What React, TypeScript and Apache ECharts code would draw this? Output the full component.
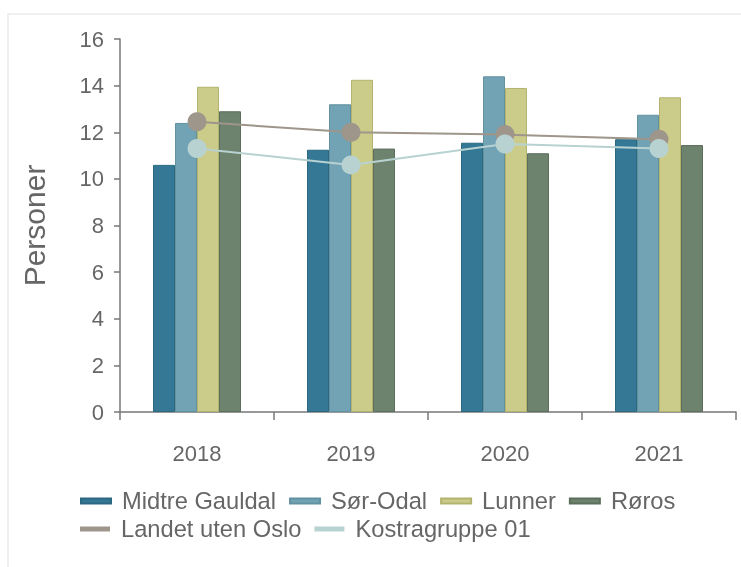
import React, { useEffect, useRef } from "react";
import * as echarts from "echarts";

const years = ["2018", "2019", "2020", "2021"];
const midtreGauldal = [10.6, 11.25, 11.55, 11.7];
const sorOdal = [12.4, 13.2, 14.4, 12.75];
const lunner = [13.95, 14.25, 13.9, 13.5];
const roros = [12.9, 11.3, 11.1, 11.45];
const landetUtenOslo = [12.45, 12.0, 11.9, 11.7];
const kostragruppe01 = [11.3, 10.6, 11.5, 11.3];
const yTicks = { min: 0, max: 16, interval: 2 };
const legendRow1 = ["Midtre Gauldal", "Sør-Odal", "Lunner", "Røros"];
const legendRow2 = ["Landet uten Oslo", "Kostragruppe 01"];

const FONT = "'Liberation Sans', Arial, sans-serif";

export default function App() {
  const ref = useRef<HTMLDivElement>(null);
  useEffect(() => {
    if (!ref.current) return;
    const chart = echarts.init(ref.current, undefined, { renderer: "svg" });
    const bar = (name: string, data: number[], color: string, border: string) => ({
      name,
      type: "bar",
      data,
      barWidth: 22,
      barGap: "0%",
      itemStyle: { color, borderColor: border, borderWidth: 1 },
    });
    const line = (name: string, data: number[], color: string) => ({
      name,
      type: "line",
      data,
      symbol: "circle",
      symbolSize: 19,
      lineStyle: { color, width: 2 },
      itemStyle: { color },
      z: 5,
    });
    const legendBase = {
      left: 80,
      padding: 0,
      itemWidth: 30,
      itemHeight: 5,
      itemGap: 13,
      icon: "rect",
      textStyle: { fontSize: 23.7, color: "#666", fontFamily: FONT, padding: [0, 0, 0, 6] },
    };
    chart.setOption({
      animation: false,
      textStyle: { fontFamily: FONT },
      graphic: [
        {
          type: "rect",
          shape: { x: 8, y: 14, width: 800, height: 600 },
          style: { fill: "none", stroke: "#ececec", lineWidth: 1.5 },
          silent: true,
        },
      ],
      grid: { left: 120, right: 5, top: 39, bottom: 155, containLabel: false },
      legend: [
        { ...legendBase, top: 489, data: legendRow1 },
        { ...legendBase, top: 517, data: legendRow2 },
      ],
      xAxis: {
        type: "category",
        data: years,
        axisLine: { lineStyle: { color: "#777", width: 1.5 } },
        axisTick: { show: true, length: 8, lineStyle: { color: "#777", width: 1.5 } },
        axisLabel: { fontSize: 22, color: "#666", margin: 30, fontFamily: FONT },
      },
      yAxis: {
        type: "value",
        min: yTicks.min,
        max: yTicks.max,
        interval: yTicks.interval,
        name: "Personer",
        nameLocation: "middle",
        nameGap: 71,
        nameTextStyle: { fontSize: 30, color: "#666", fontFamily: FONT },
        splitLine: { show: false },
        axisLine: { show: true, lineStyle: { color: "#777", width: 1.5 } },
        axisTick: { show: true, length: 6, lineStyle: { color: "#777", width: 1.5 } },
        axisLabel: { fontSize: 22, color: "#666", margin: 16, fontFamily: FONT },
      },
      series: [
        bar("Midtre Gauldal", midtreGauldal, "#347896", "#2c6981"),
        bar("Sør-Odal", sorOdal, "#72a3b5", "#62919f"),
        bar("Lunner", lunner, "#cccc8a", "#b3b36f"),
        bar("Røros", roros, "#6e836d", "#5c6f5b"),
        line("Landet uten Oslo", landetUtenOslo, "#9e958b"),
        line("Kostragruppe 01", kostragruppe01, "#b8d2d2"),
      ],
    });
    return () => chart.dispose();
  }, []);
  return <div ref={ref} style={{ position: "fixed", left: 0, top: 0, width: 741, height: 567 }} />;
}
